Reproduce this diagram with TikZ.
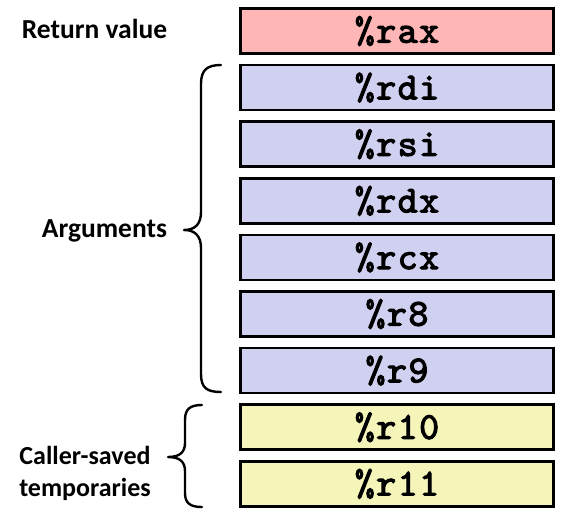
\documentclass[tikz,border=0pt]{standalone}
\usepackage{fontspec}
\setmainfont{Carlito}
\newfontfamily\regfont[FakeBold=3,LetterSpace=4]{lmmono10-regular.otf}
\definecolor{retfill}{RGB}{255,182,182}
\definecolor{argfill}{RGB}{208,208,240}
\definecolor{tmpfill}{RGB}{245,245,186}
\begin{document}
\begin{tikzpicture}[x=1pt,y=-1pt,
  reg/.style={draw=black,line width=2.6pt,minimum width=313pt,minimum height=45pt,inner sep=0pt,
    font=\regfont\fontsize{38}{38}\selectfont},
  lbl/.style={font=\bfseries\fontsize{27.5}{32}\selectfont,align=center,inner sep=0pt},
  brace/.style={draw=black,line width=2.4pt,line cap=round,line join=round}]
\useasboundingbox (0,0) rectangle (570,528);
\node[reg,fill=retfill] (rax) at (397,31) {\%rax};
\node[reg,fill=argfill] (rdi) at (397,87.6) {\%rdi};
\node[reg,fill=argfill] (rsi) at (397,144.2) {\%rsi};
\node[reg,fill=argfill] (rdx) at (397,200.8) {\%rdx};
\node[reg,fill=argfill] (rcx) at (397,257.4) {\%rcx};
\node[reg,fill=argfill] (r8) at (397,314) {\%r8};
\node[reg,fill=argfill] (r9) at (397,370.6) {\%r9};
\node[reg,fill=tmpfill] (r10) at (397,427.2) {\%r10};
\node[reg,fill=tmpfill] (r11) at (397,483.8) {\%r11};
\node[lbl,anchor=base] (ret) at (94.5,38) {Return value};
\node[lbl,anchor=base] (args) at (104.5,237) {Arguments};
\node[lbl,font=\bfseries\fontsize{26}{32}\selectfont] (caller) at (85,473) {Caller-saved\\temporaries};
% Arguments brace
\draw[brace] (221,65) .. controls (207,65) and (201,70) .. (201,84)
  -- (201,212) .. controls (201,224) and (195,230) .. (184,230)
  .. controls (195,230) and (201,236) .. (201,248)
  -- (201,374) .. controls (201,388) and (207,392) .. (221,392);
% Caller-saved brace
\draw[brace] (202,405) .. controls (190,405) and (185,409) .. (185,420)
  -- (185,443) .. controls (185,452) and (180,457) .. (168,457)
  .. controls (180,457) and (185,462) .. (185,471)
  -- (185,493) .. controls (185,503) and (190,507) .. (202,507);
\end{tikzpicture}
\end{document}
